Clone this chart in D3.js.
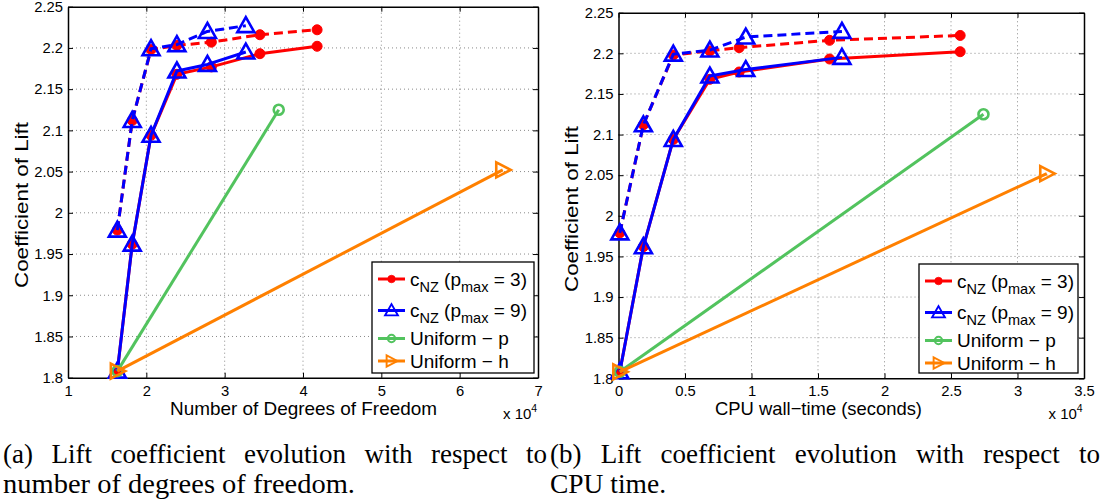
<!DOCTYPE html>
<html>
<head>
<meta charset="utf-8">
<script src="https://cdn.jsdelivr.net/npm/d3@7"></script>
<style>
  body { margin: 0; background: #fff; }
  svg { display: block; }
</style>
</head>
<body>
<svg id="fig" width="1103" height="501"></svg>
<script>
// Lift coefficient per refinement step (same meshes in both panels)
const liftP3Solid  = [1.808, 1.962, 2.094, 2.168, 2.177, 2.193, 2.202];
const liftP3Dashed = [1.979, 2.112, 2.198, 2.203, 2.207, 2.216, 2.222];
const liftP9Solid  = [1.808, 1.962, 2.094, 2.172, 2.180, 2.195];
const liftP9Dashed = [1.979, 2.112, 2.199, 2.204, 2.220, 2.227];
const liftUniformP = [1.808, 2.125];
const liftUniformH = [1.808, 2.052];

// Number of degrees of freedom (x 10^4)
const dofP3       = [1.63, 1.82, 2.06, 2.39, 2.83, 3.45, 4.18];
const dofP9       = [1.63, 1.82, 2.06, 2.39, 2.78, 3.27];
const dofUniformP = [1.63, 3.69];
const dofUniformH = [1.63, 6.55];

// CPU wall-time (x 10^4 seconds)
const cpuP3       = [0.01, 0.187, 0.412, 0.687, 0.907, 1.587, 2.569];
const cpuP9       = [0.01, 0.187, 0.412, 0.687, 0.957, 1.68];
const cpuUniformP = [0.01, 2.744];
const cpuUniformH = [0.01, 3.22];

// Tick values
const liftTicks = [1.8, 1.85, 1.9, 1.95, 2, 2.05, 2.1, 2.15, 2.2, 2.25];
const dofTicks  = [1, 2, 3, 4, 5, 6, 7];
const cpuTicks  = [0, 0.5, 1, 1.5, 2, 2.5, 3, 3.5];

// Legend entries: [main, subscript, middle, subscript, tail]
const legendLabels = [
  ["c", "NZ", " (p", "max", " = 3)"],
  ["c", "NZ", " (p", "max", " = 9)"],
  ["Uniform \u2212 p"],
  ["Uniform \u2212 h"]
];

const captionA = ["(a) Lift coefficient evolution with respect to", "number of degrees of freedom."];
const captionB = ["(b) Lift coefficient evolution with respect to", "CPU time."];

const RED = "#ff0000", BLUE = "#0000ff", GREEN = "#52c35e", ORANGE = "#ff8000";
const FONT = "'Liberation Sans', Arial, Helvetica, sans-serif";

const svg = d3.select("#fig");

function zip(xs, ys) { return xs.map((x, i) => [x, ys[i]]); }

// marker shapes
function drawMarker(g, type, color) {
  if (type === "dot") {
    g.append("circle").attr("r", 5).attr("fill", color).attr("stroke", color).attr("stroke-width", 1);
  } else if (type === "tri") {
    g.append("path").attr("d", "M0,-8.5 L8.5,6.5 L-8.5,6.5 Z")
      .attr("fill", "none").attr("stroke", color).attr("stroke-width", 2.6).attr("stroke-linejoin", "miter");
  } else if (type === "circ") {
    g.append("circle").attr("r", 5).attr("fill", "none").attr("stroke", color).attr("stroke-width", 2.6);
  } else if (type === "rtri") {
    g.append("path").attr("d", "M8,0 L-6.5,-7.5 L-6.5,7.5 Z")
      .attr("fill", "none").attr("stroke", color).attr("stroke-width", 2.6).attr("stroke-linejoin", "miter");
  }
}

const panels = [
  {
    xr: [68, 538], yr: [377.7, 6.7], xd: [1, 7], xTicks: dofTicks,
    xFmt: d => String(d), xLabel: "Number of Degrees of Freedom",
    xLabelX: 170, xLabelLen: 267, yLabelX: 27.5, yLabelC: 205,
    scaleX: 503, legend: { x: 372, y: 262, w: 162, h: 111 },
    series: [
      { xs: dofP3, ys: liftP3Dashed, color: RED, marker: "dot", dash: true },
      { xs: dofP9, ys: liftP9Dashed, color: BLUE, marker: "tri", dash: true },
      { xs: dofP3, ys: liftP3Solid, color: RED, marker: "dot" },
      { xs: dofP9, ys: liftP9Solid, color: BLUE, marker: "tri" },
      { xs: dofUniformP, ys: liftUniformP, color: GREEN, marker: "circ" },
      { xs: dofUniformH, ys: liftUniformH, color: ORANGE, marker: "rtri" }
    ]
  },
  {
    xr: [618.5, 1084], yr: [378.3, 12.7], xd: [0, 3.5], xTicks: cpuTicks,
    xFmt: d => String(d), xLabel: "CPU wall\u2212time (seconds)",
    xLabelX: 715, xLabelLen: 207, yLabelX: 577.5, yLabelC: 209,
    scaleX: 1048.5, legend: { x: 919, y: 264, w: 159, h: 109 },
    series: [
      { xs: cpuP3, ys: liftP3Dashed, color: RED, marker: "dot", dash: true },
      { xs: cpuP9, ys: liftP9Dashed, color: BLUE, marker: "tri", dash: true },
      { xs: cpuP3, ys: liftP3Solid, color: RED, marker: "dot" },
      { xs: cpuP9, ys: liftP9Solid, color: BLUE, marker: "tri" },
      { xs: cpuUniformP, ys: liftUniformP, color: GREEN, marker: "circ" },
      { xs: cpuUniformH, ys: liftUniformH, color: ORANGE, marker: "rtri" }
    ]
  }
];

const legendStyle = [
  { color: RED, marker: "dot" },
  { color: BLUE, marker: "tri" },
  { color: GREEN, marker: "circ" },
  { color: ORANGE, marker: "rtri" }
];

panels.forEach(p => {
  const x = d3.scaleLinear().domain(p.xd).range(p.xr);
  const y = d3.scaleLinear().domain([1.8, 2.25]).range(p.yr);
  const g = svg.append("g");

  // dotted grid
  const grid = g.append("g").attr("stroke", "#8a8a8a").attr("stroke-width", 1).attr("stroke-dasharray", "1,3");
  p.xTicks.slice(1, -1).forEach(t => {
    grid.append("line").attr("x1", x(t)).attr("x2", x(t)).attr("y1", p.yr[0]).attr("y2", p.yr[1]);
  });
  liftTicks.slice(1, -1).forEach(t => {
    grid.append("line").attr("x1", p.xr[0]).attr("x2", p.xr[1]).attr("y1", y(t)).attr("y2", y(t));
  });

  // axes with inward ticks on all four sides
  const axB = d3.axisBottom(x).tickValues(p.xTicks).tickFormat(p.xFmt).tickSizeInner(-5).tickSizeOuter(0).tickPadding(7.5);
  const axT = d3.axisTop(x).tickValues(p.xTicks).tickFormat("").tickSizeInner(-5).tickSizeOuter(0);
  const axL = d3.axisLeft(y).tickValues(liftTicks).tickFormat(d => String(d)).tickSizeInner(-5).tickSizeOuter(0).tickPadding(5);
  const axR = d3.axisRight(y).tickValues(liftTicks).tickFormat("").tickSizeInner(-5).tickSizeOuter(0);

  const styleAxis = sel => {
    sel.selectAll("path.domain").attr("stroke", "#000").attr("stroke-width", 1.5);
    sel.selectAll(".tick line").attr("stroke", "#000").attr("stroke-width", 1);
    sel.selectAll("text").attr("font-family", FONT).attr("font-size", 14.8).attr("fill", "#000");
  };
  g.append("g").attr("transform", `translate(0,${p.yr[0]})`).call(axB).call(styleAxis);
  g.append("g").attr("transform", `translate(0,${p.yr[1]})`).call(axT).call(styleAxis);
  g.append("g").attr("transform", `translate(${p.xr[0]},0)`).call(axL).call(styleAxis);
  g.append("g").attr("transform", `translate(${p.xr[1]},0)`).call(axR).call(styleAxis);

  // axis titles
  g.append("text").attr("x", p.xLabelX).attr("y", 415)
    .attr("font-family", FONT).attr("font-size", 18.5)
    .attr("textLength", p.xLabelLen).attr("lengthAdjust", "spacingAndGlyphs")
    .text(p.xLabel);
  g.append("text")
    .attr("transform", `translate(${p.yLabelX},${p.yLabelC}) rotate(-90)`)
    .attr("text-anchor", "middle")
    .attr("font-family", FONT).attr("font-size", 18.5)
    .attr("textLength", 166).attr("lengthAdjust", "spacingAndGlyphs")
    .text("Coefficient of Lift");

  // x 10^4 multiplier
  const mult = g.append("text").attr("x", p.scaleX).attr("y", 418.5)
    .attr("font-family", FONT).attr("font-size", 15);
  mult.append("tspan").text("x 10");
  mult.append("tspan").attr("dy", -7).attr("font-size", 10.5).text("4");

  // series
  const line = d3.line().x(d => x(d[0])).y(d => y(d[1]));
  p.series.forEach(s => {
    const pts = zip(s.xs, s.ys);
    g.append("path").datum(pts).attr("d", line)
      .attr("fill", "none").attr("stroke", s.color).attr("stroke-width", 3)
      .attr("stroke-linejoin", "round")
      .attr("stroke-dasharray", s.dash ? "9,5" : null);
    pts.forEach(d => {
      const m = g.append("g").attr("transform", `translate(${x(d[0])},${y(d[1])})`);
      drawMarker(m, s.marker, s.color);
    });
  });

  // legend
  const L = p.legend;
  const lg = g.append("g").attr("transform", `translate(${L.x},${L.y})`);
  lg.append("rect").attr("width", L.w).attr("height", L.h)
    .attr("fill", "#fff").attr("stroke", "#000").attr("stroke-width", 1.3);
  const rowY = [17, 48.5, 76.5, 99];
  legendLabels.forEach((lab, i) => {
    const st = legendStyle[i];
    const ry = rowY[i];
    lg.append("line").attr("x1", 6).attr("x2", 33).attr("y1", ry).attr("y2", ry)
      .attr("stroke", st.color).attr("stroke-width", 3);
    const m = lg.append("g").attr("transform", `translate(19.5,${ry}) scale(0.75)`);
    drawMarker(m, st.marker, st.color);
    const t = lg.append("text").attr("x", 38).attr("y", ry + 6.5)
      .attr("font-family", FONT).attr("font-size", 19);
    if (lab.length === 1) {
      t.text(lab[0]);
    } else {
      t.append("tspan").text(lab[0]);
      t.append("tspan").attr("dy", 6).attr("font-size", 14.5).text(lab[1]);
      t.append("tspan").attr("dy", -6).text(lab[2]);
      t.append("tspan").attr("dy", 6).attr("font-size", 14.5).text(lab[3]);
      t.append("tspan").attr("dy", -6).text(lab[4]);
    }
  });
});

// sub-figure captions; first lines are justified by widening the word gaps
const capFont = "'Liberation Serif', 'Times New Roman', serif";
const captions = [
  { lines: captionA, x: 3, widths: [544, 352] },
  { lines: captionB, x: 550, widths: [550, 116] }
];
captions.forEach(c => {
  c.lines.forEach((txt, i) => {
    const t = svg.append("text").attr("x", c.x).attr("y", 463 + i * 30)
      .attr("font-family", capFont).attr("font-size", 27).attr("fill", "#000")
      .text(txt);
    if (i === 0) {
      const natural = t.node().getComputedTextLength();
      const gaps = txt.split(" ").length - 1;
      t.attr("word-spacing", Math.max(0, (c.widths[i] - natural) / gaps));
    } else {
      t.attr("textLength", c.widths[i]).attr("lengthAdjust", "spacingAndGlyphs");
    }
  });
});
</script>
</body>
</html>
